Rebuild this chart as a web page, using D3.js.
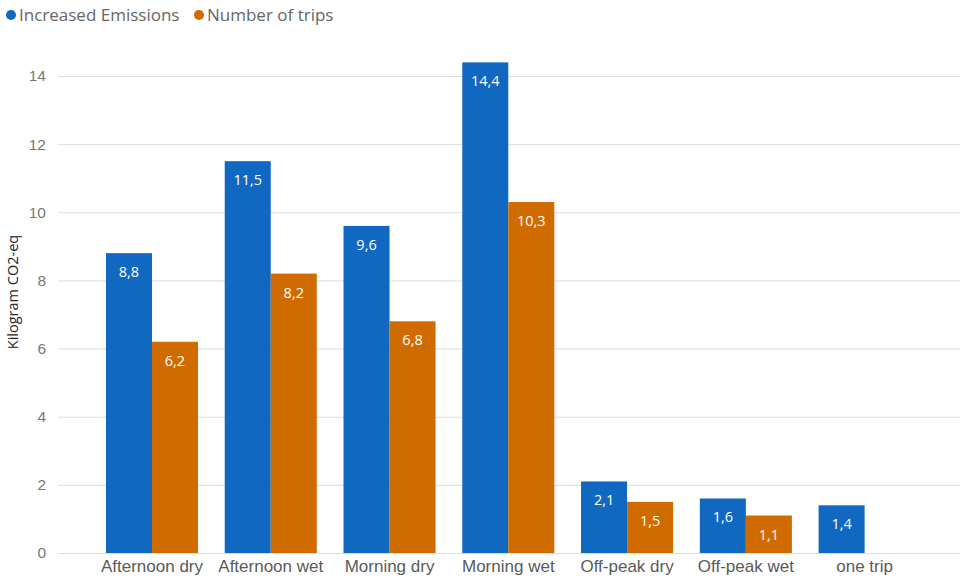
<!DOCTYPE html>
<html>
<head>
<meta charset="utf-8">
<script src="https://cdn.jsdelivr.net/npm/d3@7"></script>
<style>
  body { margin: 0; background: #fff; }
  svg { font-family: "Open Sans", "Noto Sans", sans-serif; }
</style>
</head>
<body>
<div id="chart"></div>
<script>
// 数据
const categories = ['Afternoon dry', 'Afternoon wet', 'Morning dry', 'Morning wet', 'Off-peak dry', 'Off-peak wet', 'one trip'];
const seriesNames = ['Increased Emissions', 'Number of trips'];
const emissions = [8.8, 11.5, 9.6, 14.4, 2.1, 1.6, 1.4];
const trips = [6.2, 8.2, 6.8, 10.3, 1.5, 1.1, null];
const yTicks = [0, 2, 4, 6, 8, 10, 12, 14];
const colors = ['#1068c0', '#d06b00'];

const width = 960, height = 579;
const x0 = 92.6, x1 = 924, yTop = 76, yBottom = 553;   // 绘图区

const svg = d3.select('#chart').append('svg')
  .attr('width', width)
  .attr('height', height);

// 比例尺
const x = d3.scaleBand().domain(categories).range([x0, x1]).paddingInner(0.225).paddingOuter(0.1125);
const xs = d3.scaleBand().domain(seriesNames).range([0, x.bandwidth()]);
const y = d3.scaleLinear().domain([0, 14]).range([yBottom, yTop]);

// 网格线 + y刻度
const yAxis = svg.append('g')
  .attr('transform', 'translate(58,0)')
  .call(d3.axisLeft(y).tickValues(yTicks).tickSize(0).tickPadding(12).tickFormat(d3.format('d')));
yAxis.select('.domain').remove();
yAxis.selectAll('text').style('font-size', '15.5px').attr('fill', '#777');
yAxis.selectAll('.tick').append('line')
  .attr('x1', 0).attr('x2', width - 58)
  .attr('stroke', '#dcdcdc').attr('stroke-width', 1);

// x轴标签
const xAxis = svg.append('g')
  .attr('transform', `translate(0,${yBottom})`)
  .call(d3.axisBottom(x).tickSize(0).tickPadding(7));
xAxis.select('.domain').remove();
xAxis.selectAll('text').style('font-size', '17px').attr('fill', '#5a5a5a');

// y轴标题
svg.append('text')
  .attr('transform', `translate(18,292) rotate(-90)`)
  .attr('text-anchor', 'middle')
  .style('font-size', '14.5px')
  .attr('fill', '#222')
  .text('Kilogram CO2-eq');

// 柱子
const flat = categories.flatMap((c, i) => [
  { cat: c, s: seriesNames[0], v: emissions[i], k: 0 },
  { cat: c, s: seriesNames[1], v: trips[i], k: 1 }
]).filter(d => d.v != null);

const fmt = v => v.toFixed(1).replace('.', ',');

const bars = svg.append('g').selectAll('g')
  .data(flat)
  .enter()
  .append('g');

bars.append('rect')
  .attr('x', d => x(d.cat) + xs(d.s))
  .attr('y', d => y(d.v))
  .attr('width', xs.bandwidth())
  .attr('height', d => yBottom - y(d.v))
  .attr('fill', d => colors[d.k]);

bars.append('text')
  .attr('x', d => x(d.cat) + xs(d.s) + xs.bandwidth() / 2)
  .attr('y', d => y(d.v) + 24)
  .attr('text-anchor', 'middle')
  .style('font-size', '14.5px')
  .attr('fill', '#fff')
  .text(d => fmt(d.v));

// 图例
const legendX = [11, 199];
seriesNames.forEach((name, i) => {
  svg.append('circle')
    .attr('cx', legendX[i]).attr('cy', 15).attr('r', 5)
    .attr('fill', colors[i]);
  svg.append('text')
    .attr('x', legendX[i] + 8).attr('y', 21)
    .style('font-size', '17px')
    .attr('fill', '#666')
    .text(name);
});
</script>
</body>
</html>
